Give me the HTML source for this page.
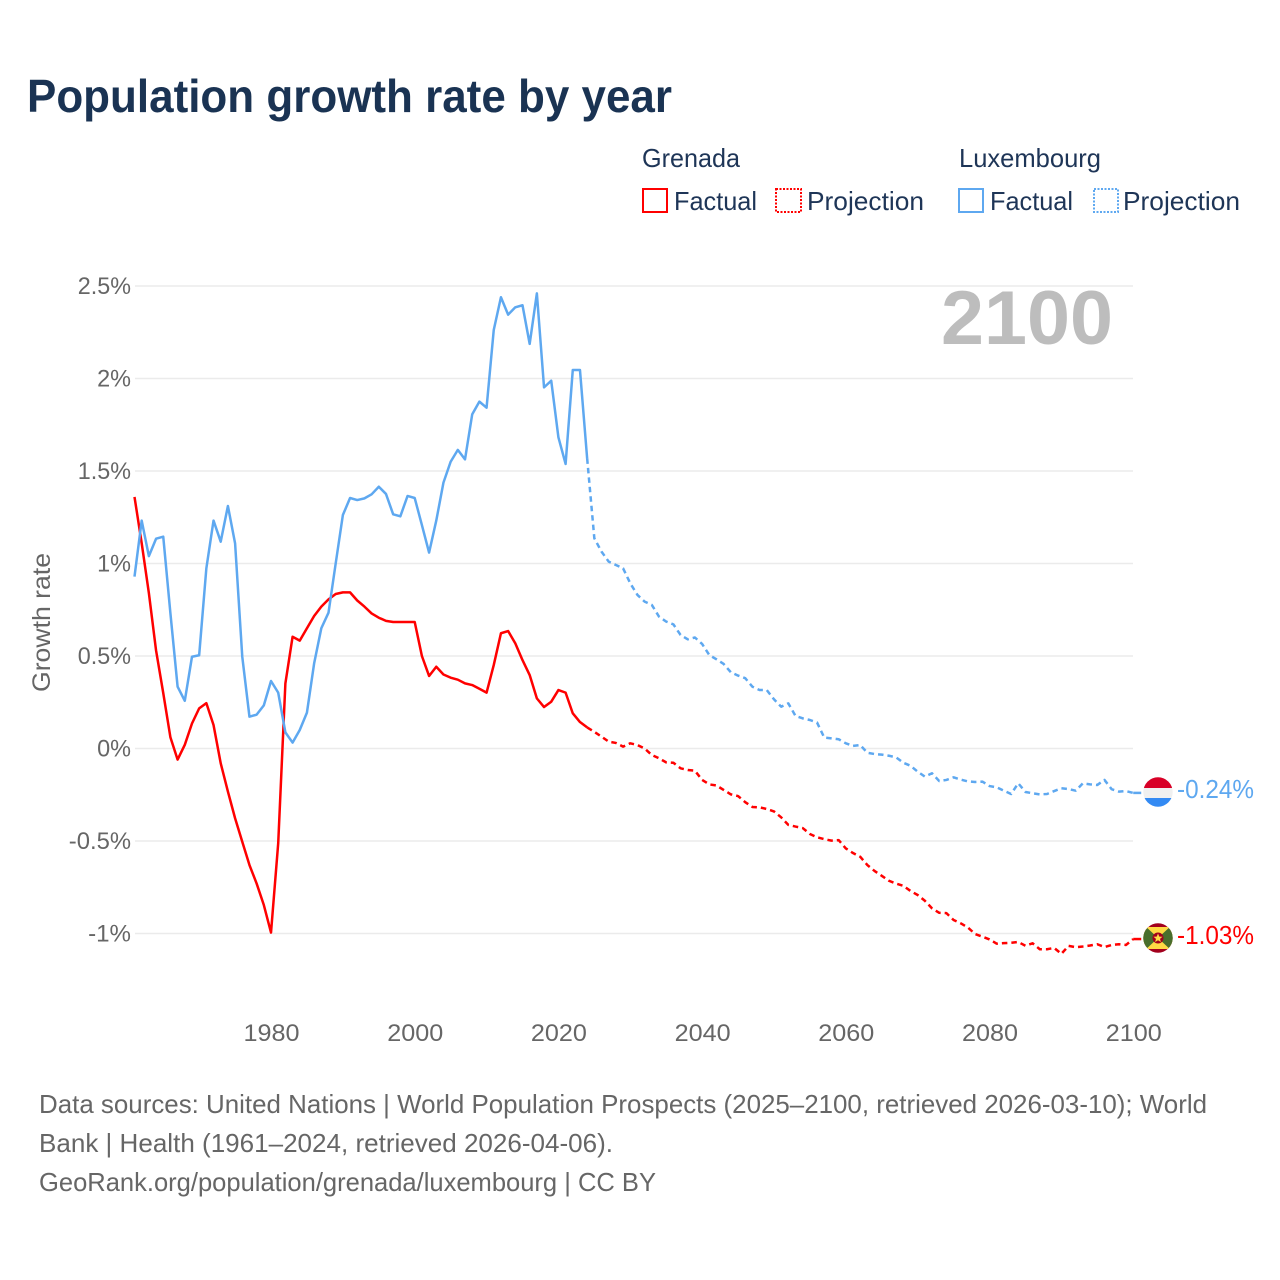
<!DOCTYPE html>
<html lang="en">
<head>
<meta charset="utf-8">
<title>Population growth rate by year</title>
<style>
html,body{margin:0;padding:0;background:#fff;width:1280px;height:1280px;overflow:hidden}
svg{display:block}
text{font-family:"Liberation Sans",sans-serif}
</style>
</head>
<body>
<svg id="chart" width="1280" height="1280" viewBox="0 0 1280 1280" xmlns="http://www.w3.org/2000/svg">
  <defs>
    <clipPath id="flag-clip-lu"><circle cx="1158" cy="792" r="14.7"/></clipPath>
    <clipPath id="flag-clip-gd"><circle cx="1158" cy="938" r="14.7"/></clipPath>
  </defs>
  <rect width="1280" height="1280" fill="#fff"/>
  <text x="27" y="112" font-size="46" font-weight="700" fill="#1a3353" textLength="645" lengthAdjust="spacingAndGlyphs">Population growth rate by year</text>

  <g font-size="26" fill="#1e3557">
    <text x="642" y="167" textLength="98" lengthAdjust="spacingAndGlyphs">Grenada</text>
    <text x="959" y="167" textLength="142" lengthAdjust="spacingAndGlyphs">Luxembourg</text>
    <rect x="643" y="189" width="24" height="23" fill="none" stroke="#ff0000" stroke-width="2"/>
    <text x="674" y="210" textLength="83" lengthAdjust="spacingAndGlyphs">Factual</text>
    <rect x="776" y="189" width="25" height="23" fill="none" stroke="#ff0000" stroke-width="2" stroke-dasharray="2,1.5"/>
    <text x="807" y="210" textLength="117" lengthAdjust="spacingAndGlyphs">Projection</text>
    <rect x="959" y="189" width="24" height="23" fill="none" stroke="#5ea8f0" stroke-width="2"/>
    <text x="990" y="210" textLength="83" lengthAdjust="spacingAndGlyphs">Factual</text>
    <rect x="1094" y="189" width="24" height="23" fill="none" stroke="#5ea8f0" stroke-width="2" stroke-dasharray="2,1.5"/>
    <text x="1123" y="210" textLength="117" lengthAdjust="spacingAndGlyphs">Projection</text>
  </g>

  <g id="grid"></g>
  <g id="y-ticks"></g>
  <g id="x-ticks"></g>

  <text transform="translate(50,622.5) rotate(-90)" text-anchor="middle" font-size="25" fill="#666" textLength="139" lengthAdjust="spacingAndGlyphs">Growth rate</text>
  <text x="941" y="344" font-size="76" font-weight="700" fill="#bdbdbd" textLength="172" lengthAdjust="spacingAndGlyphs">2100</text>

  <g id="series"></g>

  <g clip-path="url(#flag-clip-lu)">
    <rect x="1143" y="777" width="30" height="11" fill="#d80027"/>
    <rect x="1143" y="788" width="30" height="10" fill="#f0f0f0"/>
    <rect x="1143" y="798" width="30" height="10" fill="#338af3"/>
  </g>
  <g clip-path="url(#flag-clip-gd)">
    <rect x="1143" y="923" width="30" height="30" fill="#a2001d"/>
    <polygon points="1143,927 1173,927 1173,949 1143,949" fill="#ffda44"/>
    <polygon points="1143,924 1158,938 1143,952" fill="#496e2d"/>
    <polygon points="1173,924 1158,938 1173,952" fill="#496e2d"/>
    <circle cx="1158" cy="938" r="5.5" fill="#a2001d"/>
    <polygon points="1158,933.5 1159.3,936.6 1162.5,936.8 1160,938.9 1160.9,942 1158,940.3 1155.1,942 1156,938.9 1153.5,936.8 1156.7,936.6" fill="#ffda44"/>
  </g>
  <g id="end-labels"></g>

  <g font-size="26" fill="#666">
    <text x="39" y="1113" textLength="1168" lengthAdjust="spacingAndGlyphs">Data sources: United Nations | World Population Prospects (2025–2100, retrieved 2026-03-10); World</text>
    <text x="39" y="1152" textLength="574" lengthAdjust="spacingAndGlyphs">Bank | Health (1961–2024, retrieved 2026-04-06).</text>
    <text x="39" y="1191" textLength="617" lengthAdjust="spacingAndGlyphs">GeoRank.org/population/grenada/luxembourg | CC BY</text>
  </g>
</svg>
<script>
const factualStartYear = 1961;
const projectionStartYear = 2024;
const xTickYears = [1980, 2000, 2020, 2040, 2060, 2080, 2100];
const yTickValues = [2.5, 2, 1.5, 1, 0.5, 0, -0.5, -1];

const grenadaFactual = [1.36,1.11,0.84,0.53,0.30,0.06,-0.06,0.02,0.135,0.217,0.245,0.127,-0.08,-0.233,-0.377,-0.504,-0.63,-0.73,-0.846,-0.995,-0.513,0.352,0.604,0.583,0.65,0.716,0.767,0.806,0.835,0.844,0.844,0.80,0.767,0.73,0.707,0.69,0.684,0.684,0.684,0.684,0.50,0.392,0.442,0.40,0.383,0.372,0.352,0.343,0.323,0.302,0.451,0.623,0.635,0.568,0.478,0.397,0.271,0.224,0.253,0.316,0.302,0.19,0.143,0.114];
const grenadaProjection = [0.114,0.09,0.064,0.037,0.03,0.01,0.028,0.019,0,-0.035,-0.053,-0.075,-0.077,-0.107,-0.116,-0.12,-0.17,-0.194,-0.2,-0.224,-0.248,-0.257,-0.29,-0.316,-0.318,-0.327,-0.34,-0.372,-0.413,-0.422,-0.43,-0.462,-0.48,-0.49,-0.498,-0.495,-0.54,-0.565,-0.585,-0.63,-0.662,-0.688,-0.715,-0.73,-0.742,-0.77,-0.792,-0.823,-0.864,-0.888,-0.89,-0.927,-0.945,-0.968,-1.003,-1.017,-1.032,-1.055,-1.052,-1.05,-1.046,-1.066,-1.053,-1.085,-1.085,-1.078,-1.11,-1.067,-1.074,-1.07,-1.065,-1.058,-1.073,-1.062,-1.058,-1.062,-1.03];
const luxembourgFactual = [0.929,1.232,1.04,1.134,1.145,0.73,0.334,0.258,0.496,0.504,0.974,1.232,1.118,1.311,1.109,0.496,0.172,0.183,0.233,0.365,0.302,0.087,0.032,0.1,0.194,0.46,0.65,0.734,1.0,1.262,1.354,1.343,1.352,1.374,1.415,1.376,1.266,1.255,1.365,1.354,1.208,1.059,1.232,1.437,1.55,1.614,1.563,1.806,1.875,1.842,2.262,2.439,2.345,2.385,2.396,2.187,2.46,1.952,1.988,1.682,1.538,2.046,2.046,1.568];
const luxembourgProjection = [1.568,1.136,1.064,1.01,0.992,0.974,0.893,0.83,0.794,0.776,0.713,0.686,0.671,0.614,0.59,0.6,0.565,0.505,0.482,0.457,0.412,0.394,0.38,0.334,0.316,0.316,0.266,0.226,0.244,0.176,0.163,0.154,0.14,0.059,0.055,0.05,0.028,0.014,0.019,-0.023,-0.03,-0.033,-0.039,-0.048,-0.077,-0.093,-0.125,-0.152,-0.134,-0.176,-0.17,-0.156,-0.168,-0.178,-0.181,-0.179,-0.203,-0.21,-0.228,-0.246,-0.188,-0.235,-0.242,-0.248,-0.246,-0.23,-0.215,-0.219,-0.228,-0.188,-0.194,-0.197,-0.17,-0.22,-0.233,-0.23,-0.24];

const svgNS = 'http://www.w3.org/2000/svg';
function xScale(year) { return 134.5 + (year - 1961) * 7.185; }
function yScale(value) { return 748.5 - value * 185; }
function tickLabelWidth(label) {
  let w = 0;
  for (const c of label) w += c === '%' ? 20 : c === '.' ? 5.4 : c === '-' ? 9 : 13.9;
  return w;
}
function linePath(values, startYear) {
  return values.map((v, i) => (i ? 'L' : 'M') + xScale(startYear + i).toFixed(2) + ' ' + yScale(v).toFixed(2)).join(' ');
}
function makeLine(values, startYear, color, dashed) {
  const p = document.createElementNS(svgNS, 'path');
  p.setAttribute('d', linePath(values, startYear));
  p.setAttribute('fill', 'none');
  p.setAttribute('stroke', color);
  p.setAttribute('stroke-width', '2.5');
  p.setAttribute('stroke-linejoin', 'round');
  if (dashed) p.setAttribute('stroke-dasharray', '5.5,4');
  return p;
}

const grid = document.getElementById('grid');
const yTicksGroup = document.getElementById('y-ticks');
yTickValues.forEach(function (v) {
  const l = document.createElementNS(svgNS, 'line');
  
  
  l.setAttribute('x1', 135);
  l.setAttribute('x2', 1133);
  l.setAttribute('y1', yScale(v));
  l.setAttribute('y2', yScale(v));
  l.setAttribute('stroke', '#ebebeb');
  l.setAttribute('stroke-width', '1.5');
  grid.appendChild(l);
  const t = document.createElementNS(svgNS, 'text');
  
  
  const label = v + '%';
  t.textContent = label;
  t.setAttribute('x', 131 - tickLabelWidth(label));
  t.setAttribute('y', yScale(v) + 8);
  t.setAttribute('font-size', '24');
  t.setAttribute('fill', '#666');
  t.setAttribute('textLength', tickLabelWidth(label));
  t.setAttribute('lengthAdjust', 'spacingAndGlyphs');
  yTicksGroup.appendChild(t);
});

const xTicksGroup = document.getElementById('x-ticks');
xTickYears.forEach(function (y) {
  const t = document.createElementNS(svgNS, 'text');
  
  
  t.textContent = y;
  t.setAttribute('x', xScale(y) - 27.5);
  t.setAttribute('y', 1041);
  t.setAttribute('font-size', '24');
  t.setAttribute('fill', '#666');
  t.setAttribute('textLength', '56');
  t.setAttribute('lengthAdjust', 'spacingAndGlyphs');
  xTicksGroup.appendChild(t);
});

const series = document.getElementById('series');
const RED = '#ff0000';
const BLUE = '#5ea8f0';

const lineGdF = makeLine(grenadaFactual, factualStartYear, RED, false);


series.appendChild(lineGdF);

const lineGdP = makeLine(grenadaProjection, projectionStartYear, RED, true);


series.appendChild(lineGdP);

const lineLuF = makeLine(luxembourgFactual, factualStartYear, BLUE, false);


series.appendChild(lineLuF);

const lineLuP = makeLine(luxembourgProjection, projectionStartYear, BLUE, true);


series.appendChild(lineLuP);

const endLabels = document.getElementById('end-labels');
[[grenadaProjection, RED, 'grenada'], [luxembourgProjection, BLUE, 'luxembourg']].forEach(function (s) {
  const last = s[0][s[0].length - 1];
  const c = document.createElementNS(svgNS, 'line');
  
  
  c.setAttribute('x1', xScale(2100));
  c.setAttribute('x2', xScale(2100) + 8);
  c.setAttribute('y1', yScale(last));
  c.setAttribute('y2', yScale(last));
  c.setAttribute('stroke', s[1]);
  c.setAttribute('stroke-width', '2.5');
  endLabels.appendChild(c);
  const t = document.createElementNS(svgNS, 'text');
  
  
  t.textContent = last.toFixed(2) + '%';
  t.setAttribute('x', 1177);
  t.setAttribute('y', yScale(last) + 5);
  t.setAttribute('font-size', '26');
  t.setAttribute('fill', s[1]);
  t.setAttribute('textLength', '77');
  t.setAttribute('lengthAdjust', 'spacingAndGlyphs');
  endLabels.appendChild(t);
});
</script>
</body>
</html>
